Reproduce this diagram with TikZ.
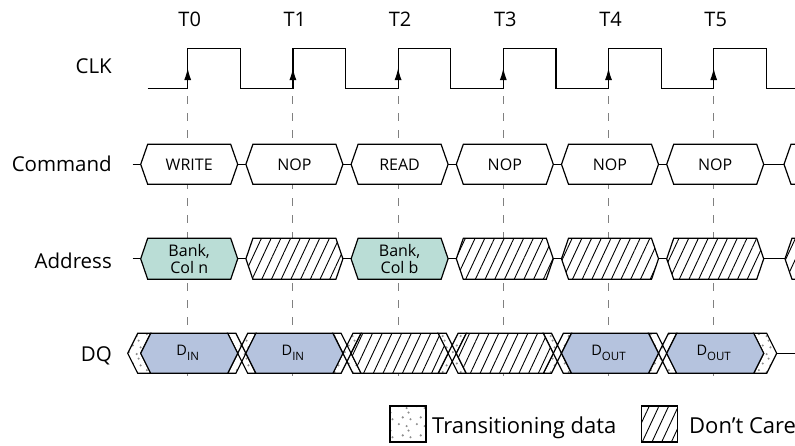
\documentclass[tikz,border=0pt]{standalone}
\usepackage{fontspec}
\setmainfont{Open Sans}
\usetikzlibrary{arrows.meta,patterns.meta}

\definecolor{addrteal}{RGB}{186,221,214}
\definecolor{dqblue}{RGB}{181,195,222}

\pgfdeclarepattern{
  name=speckle,
  type=uncolored,
  bottom left={\pgfpointorigin},
  top right={\pgfpoint{18pt}{18pt}},
  tile size={\pgfpoint{18pt}{18pt}},
  code={
    \pgfpathcircle{\pgfpoint{3pt}{4pt}}{1.2pt}
    \pgfpathcircle{\pgfpoint{11pt}{2pt}}{1.2pt}
    \pgfpathcircle{\pgfpoint{7pt}{11pt}}{1.2pt}
    \pgfpathcircle{\pgfpoint{15pt}{9pt}}{1.2pt}
    \pgfpathcircle{\pgfpoint{13pt}{16pt}}{1.2pt}
    \pgfusepath{fill}
  }
}

\newcommand{\lowtxt}[1]{\raisebox{-5pt}{\fontsize{11.5}{12}\selectfont #1}}

\tikzset{
  sig/.style={line width=1.2pt},
  cmdbox/.style={sig, draw, fill=white},
  addrbox/.style={sig, draw, fill=addrteal},
  dqbox/.style={sig, draw, fill=dqblue},
  dcbox/.style={sig, draw, preaction={fill=white}, pattern={Lines[angle=65,distance=8.8pt,line width=0.9pt]}},
  trbox/.style={sig, draw, preaction={fill=white}, pattern=speckle, pattern color=black!45},
  edgeline/.style={gray, line width=0.9pt, dash pattern=on 8pt off 9pt},
  sigtxt/.style={font=\fontsize{20.5}{24}\selectfont, anchor=base east, inner sep=0pt},
  tlabel/.style={font=\fontsize{20}{24}\selectfont, anchor=base, inner sep=0pt},
  boxtxt/.style={font=\fontsize{16}{17.5}\selectfont, inner sep=0pt, align=center},
  dqtxt/.style={font=\fontsize{14.5}{16}\selectfont, anchor=base, inner sep=0pt},
  legtxt/.style={font=\fontsize{22}{26}\selectfont, anchor=base west, inner sep=0pt}
}

\begin{document}
\begin{tikzpicture}[x=1pt,y=-1pt]
\useasboundingbox (0,0) rectangle (795,445);
\clip (0,0) rectangle (795,445);

% signal names
\node[sigtxt] (clk) at (112,73.3) {CLK};
\node[sigtxt] (cmd) at (112,171.7) {Command};
\node[sigtxt] (addr) at (112,268.3) {Address};
\node[sigtxt] (dq) at (112,361.5) {DQ};

% clock edges
\foreach \k in {0,...,5}{
  \pgfmathsetmacro{\xe}{187.7+\k*105.2}
  \node[tlabel] (t\k) at ({\xe+2},26.7) {T\k};
  \draw[edgeline] (\xe,96) -- ++(0,285);
  \draw[sig,-{Latex[length=12pt,width=7pt]}] (\xe,88.3) -- (\xe,68);
}
\draw[sig] (147.7,88.3) \foreach \k in {0,...,5}{
  -- ({187.7+\k*105.2},88.3) -- ({187.7+\k*105.2},48.3)
  -- ({240.3+\k*105.2},48.3) -- ({240.3+\k*105.2},88.3)} -- (800,88.3);

% command bus
\draw[sig] (132.7,164.3) -- (784,164.3);
\foreach \k/\txt in {0/WRITE,1/NOP,2/READ,3/NOP,4/NOP,5/NOP}{
  \pgfmathsetmacro{\xe}{187.7+\k*105.2}
  \draw[cmdbox] ({\xe-47},164.3) -- ({\xe-40},144.3) -- ({\xe+43},144.3) -- ({\xe+50},164.3)
    -- ({\xe+43},184.3) -- ({\xe-40},184.3) -- cycle;
  \node[boxtxt, anchor=base] (cmd\k) at ({\xe+1.5},170) {\txt};
}
\draw[cmdbox] (784,164.3) -- (791,144.3) -- (805,144.3) -- (805,184.3) -- (791,184.3) -- cycle;

% address bus
\draw[sig] (132.7,258.8) -- (785,258.8);
\foreach \k/\kind in {0/addrbox,1/dcbox,2/addrbox,3/dcbox,4/dcbox,5/dcbox}{
  \pgfmathsetmacro{\xe}{187.7+\k*105.2}
  \draw[\kind] ({\xe-47},258.8) -- ({\xe-40},238.3) -- ({\xe+43},238.3) -- ({\xe+50},258.8)
    -- ({\xe+43},279.3) -- ({\xe-40},279.3) -- cycle;
}
\draw[dcbox] (785,258.8) -- (792,238.3) -- (805,238.3) -- (805,279.3) -- (792,279.3) -- cycle;
\node[boxtxt] (bankn) at (189.2,259) {Bank,\\Col n};
\node[boxtxt] (bankb) at (399.6,259) {Bank,\\Col b};

% data bus
\draw[sig] (776.7,353.3) -- (800,353.3);
\draw[trbox] (137.7,333.3) -- (127.7,353.3) -- (137.7,373.3) -- (150.7,373.3) -- (140.7,353.3) -- (150.7,333.3) -- cycle;
\draw[trbox] (753.7,333.3) -- (763.7,353.3) -- (753.7,373.3) -- (766.7,373.3) -- (776.7,353.3) -- (766.7,333.3) -- cycle;
\foreach \k in {0,...,4}{
  \pgfmathsetmacro{\xr}{237.7+\k*105.2}
  \pgfmathsetmacro{\xl}{\xr+8.2}
  \pgfmathsetmacro{\xc}{\xr+4.1}
  \draw[trbox] ({\xr-10},333.3) -- (\xr,353.3) -- ({\xr-10},373.3) -- ({\xl-10},373.3) -- (\xc,361.5)
    -- ({\xr+10},373.3) -- ({\xl+10},373.3) -- (\xl,353.3) -- ({\xl+10},333.3) -- ({\xr+10},333.3)
    -- (\xc,345.1) -- ({\xl-10},333.3) -- cycle;
  \draw[sig] (\xr,353.3) -- (\xc,345.1) -- (\xl,353.3) -- (\xc,361.5) -- cycle;
}
\foreach \k/\kind in {0/dqbox,1/dqbox,2/dcbox,3/dcbox,4/dqbox,5/dqbox}{
  \pgfmathsetmacro{\xe}{187.7+\k*105.2}
  \draw[\kind] ({\xe-47},353.3) -- ({\xe-37},333.3) -- ({\xe+40},333.3) -- ({\xe+50},353.3)
    -- ({\xe+40},373.3) -- ({\xe-37},373.3) -- cycle;
}
\foreach \k/\dsub in {0/IN,1/IN,4/OUT,5/OUT}{
  \node[dqtxt] (d\k) at ({187.7+\k*105.2},355) {D\lowtxt{\dsub}};
}

% legend
\draw[trbox] (390,406) rectangle (426,442);
\node[legtxt] (legtr) at (432,433.3) {Transitioning data};
\draw[dcbox] (641.7,406) rectangle (677.7,442);
\node[legtxt] (legdc) at (689,433.3) {Don’t Care};
\end{tikzpicture}
\end{document}
